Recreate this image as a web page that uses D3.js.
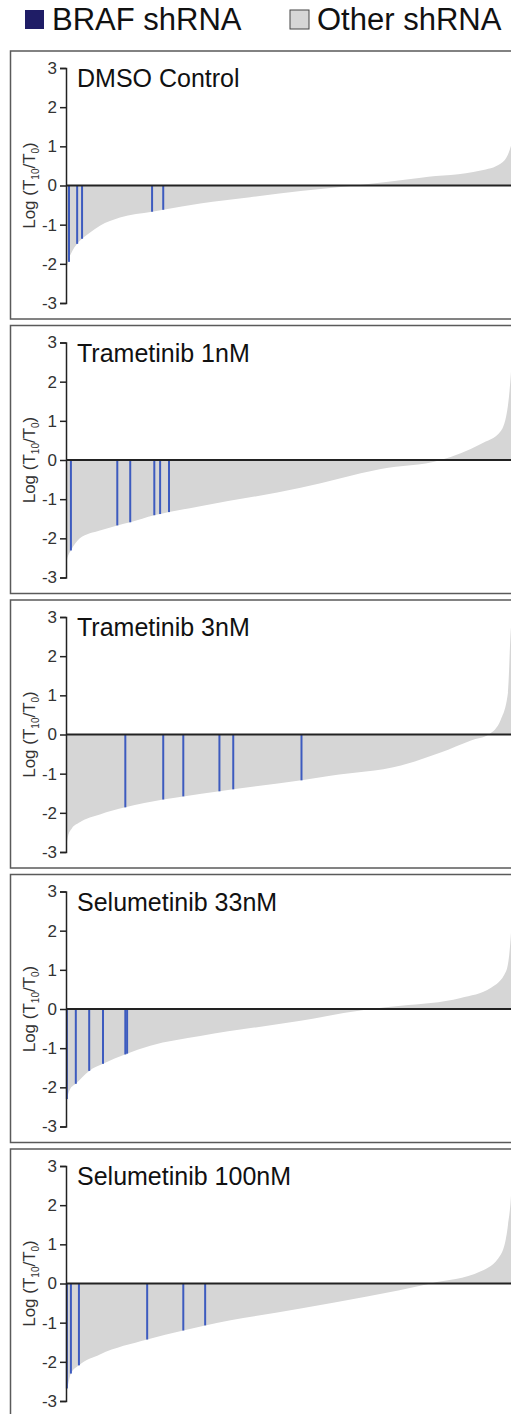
<!DOCTYPE html>
<meta charset="utf-8">
<head>
<script src="https://cdnjs.cloudflare.com/ajax/libs/d3/7.8.5/d3.min.js"></script>
<style>
body { margin:0; background:#fff; }
svg text { font-family: "Liberation Sans", Arial, Helvetica, sans-serif; }
</style>
</head>
<body>
<div id="chart"></div>
<script>

// panel titles
var panelNames = ['DMSO Control', 'Trametinib 1nM', 'Trametinib 3nM', 'Selumetinib 33nM', 'Selumetinib 100nM'];

// sorted shRNA curve: rank (0..1000) and log value
var dmsoRank  = [0, 2, 4.5, 13, 25, 36, 54, 76, 121, 193, 218, 301, 413, 526, 649, 796, 930, 975, 993, 1000];
var dmsoVal   = [-2.4, -2.1, -1.95, -1.7, -1.49, -1.36, -1.2, -1.03, -0.82, -0.67, -0.62, -0.46, -0.3, -0.14, 0, 0.2, 0.38, 0.56, 0.85, 1.1];
var tram1Rank = [0, 4.5, 11, 31, 76, 115, 144, 198, 211, 231, 301, 526, 706, 840, 930, 975, 991, 998, 1000];
var tram1Val  = [-2.64, -2.45, -2.31, -2.0, -1.8, -1.67, -1.59, -1.41, -1.38, -1.33, -1.18, -0.71, -0.23, 0, 0.41, 0.74, 1.4, 2.3, 2.7];
var tram3Rank = [0, 4.5, 13, 31, 76, 133, 218, 263, 344, 375, 528, 593, 751, 840, 908, 948, 975, 991, 998, 1000];
var tram3Val  = [-2.95, -2.6, -2.4, -2.24, -2.04, -1.86, -1.66, -1.58, -1.45, -1.4, -1.17, -1.05, -0.79, -0.46, -0.15, 0, 0.38, 1.07, 2.77, 2.9];
var selu33Rank = [0, 2, 9, 22, 52, 83, 135, 189, 301, 526, 683, 751, 885, 953, 987, 998, 1000];
var selu33Val  = [-2.4, -2.3, -2.05, -1.91, -1.58, -1.4, -1.15, -0.94, -0.69, -0.3, 0, 0.08, 0.28, 0.54, 0.97, 2.0, 2.7];
var selu100Rank = [0, 2, 11, 29, 76, 182, 263, 312, 526, 818, 930, 975, 991, 998, 1000];
var selu100Val  = [-2.7, -2.68, -2.3, -2.09, -1.81, -1.43, -1.2, -1.07, -0.64, 0, 0.31, 0.74, 1.5, 2.3, 3.0];

// BRAF shRNA positions in each ranking
var dmsoBrafRank = [6.7, 25, 36, 193, 218];
var dmsoBrafVal  = [-1.95, -1.49, -1.36, -0.67, -0.62];
var tram1BrafRank = [11, 115, 144, 198, 211, 231];
var tram1BrafVal  = [-2.31, -1.67, -1.59, -1.41, -1.38, -1.33];
var tram3BrafRank = [133, 218, 263, 344, 375, 528];
var tram3BrafVal  = [-1.86, -1.66, -1.58, -1.45, -1.4, -1.17];
var selu33BrafRank = [2, 22, 52, 83, 133, 137];
var selu33BrafVal  = [-2.3, -1.91, -1.58, -1.4, -1.16, -1.14];
var selu100BrafRank = [2, 11, 29, 182, 263, 312];
var selu100BrafVal  = [-2.68, -2.3, -2.09, -1.43, -1.2, -1.07];

var yTicks = [-3, -2, -1, 0, 1, 2, 3];
var legendLabels = ['BRAF shRNA', 'Other shRNA'];

var curves = [[dmsoRank, dmsoVal], [tram1Rank, tram1Val], [tram3Rank, tram3Val], [selu33Rank, selu33Val], [selu100Rank, selu100Val]];
var brafs = [[dmsoBrafRank, dmsoBrafVal], [tram1BrafRank, tram1BrafVal], [tram3BrafRank, tram3BrafVal],
             [selu33BrafRank, selu33BrafVal], [selu100BrafRank, selu100BrafVal]];

var width = 511, height = 1414;
var svg = d3.select('#chart').append('svg')
  .attr('width', width)
  .attr('height', height);

// legend
var legendColors = ['#1f1d66', '#d6d6d6'];
var legendX = [25, 290];
legendLabels.forEach(function(lab, i){
  svg.append('rect')
    .attr('x', legendX[i]).attr('y', 10)
    .attr('width', 19).attr('height', 19)
    .attr('fill', legendColors[i])
    .attr('stroke', i == 1 ? '#444' : 'none')
    .attr('stroke-width', 1);
  svg.append('text')
    .attr('x', legendX[i] + 27).attr('y', 30)
    .style('font-size', '31px')
    .attr('fill', '#111')
    .text(lab);
});

var x = d3.scaleLinear().domain([0, 1000]).range([66, 512]);

panelNames.forEach(function(name, p){
  var top = 51 + p * 274.5;
  var g = svg.append('g');

  g.append('rect')
    .attr('x', 10.5).attr('y', top)
    .attr('width', 506).attr('height', 268)
    .attr('fill', 'none')
    .attr('stroke', '#5a5a5a')
    .attr('stroke-width', 1.5);

  var y = d3.scaleLinear().domain([-3, 3]).range([top + 252, top + 17]);

  var pts = curves[p][0].map(function(r, i){ return [r, curves[p][1][i]]; });
  var area = d3.area()
    .x(function(d){ return x(d[0]); })
    .y0(y(0))
    .y1(function(d){ return y(d[1]); })
    .curve(d3.curveMonotoneX);

  g.append('path')
    .datum(pts)
    .attr('d', area)
    .attr('fill', '#d6d6d6');

  var braf = brafs[p][0].map(function(r, i){ return [r, brafs[p][1][i]]; });
  g.selectAll('.braf')
    .data(braf)
    .enter()
    .append('line')
    .attr('class', 'braf')
    .attr('x1', function(d){ return x(d[0]); })
    .attr('x2', function(d){ return x(d[0]); })
    .attr('y1', y(0))
    .attr('y2', function(d){ return y(d[1]); })
    .attr('stroke', '#3d5bbf')
    .attr('stroke-width', 2);

  g.append('line')
    .attr('x1', x(0)).attr('x2', x(1000))
    .attr('y1', y(0)).attr('y2', y(0))
    .attr('stroke', '#222')
    .attr('stroke-width', 2);

  var axis = d3.axisLeft(y).tickValues(yTicks).tickSize(6).tickSizeOuter(6).tickFormat(d3.format('d'));
  var ax = g.append('g')
    .attr('transform', 'translate(' + x(0) + ',0)')
    .call(axis);
  ax.select('.domain').attr('stroke', '#222').attr('stroke-width', 1.5);
  ax.selectAll('.tick line').attr('stroke', '#222').attr('stroke-width', 1.5);
  ax.selectAll('.tick text')
    .style('font-size', '17px')
    .style('font-family', '"Liberation Sans", Arial, sans-serif')
    .attr('fill', '#333')
    .attr('x', -9)
    .text(function(d){ return d < 0 ? '-' + Math.abs(d) : d; });

  // y label
  var lab = g.append('text')
    .attr('transform', 'translate(35,' + y(0) + ') rotate(-90)')
    .attr('text-anchor', 'middle')
    .style('font-size', '17px')
    .attr('fill', '#333');
  lab.append('tspan').text('Log (T');
  lab.append('tspan').attr('dy', 4).style('font-size', '10px').text('10');
  lab.append('tspan').attr('dy', -4).text('/T');
  lab.append('tspan').attr('dy', 4).style('font-size', '10px').text('0');
  lab.append('tspan').attr('dy', -4).text(')');

  g.append('text')
    .attr('x', 77).attr('y', top + 36)
    .style('font-size', '25px')
    .attr('fill', '#111')
    .text(name);
});

</script>
</body>
